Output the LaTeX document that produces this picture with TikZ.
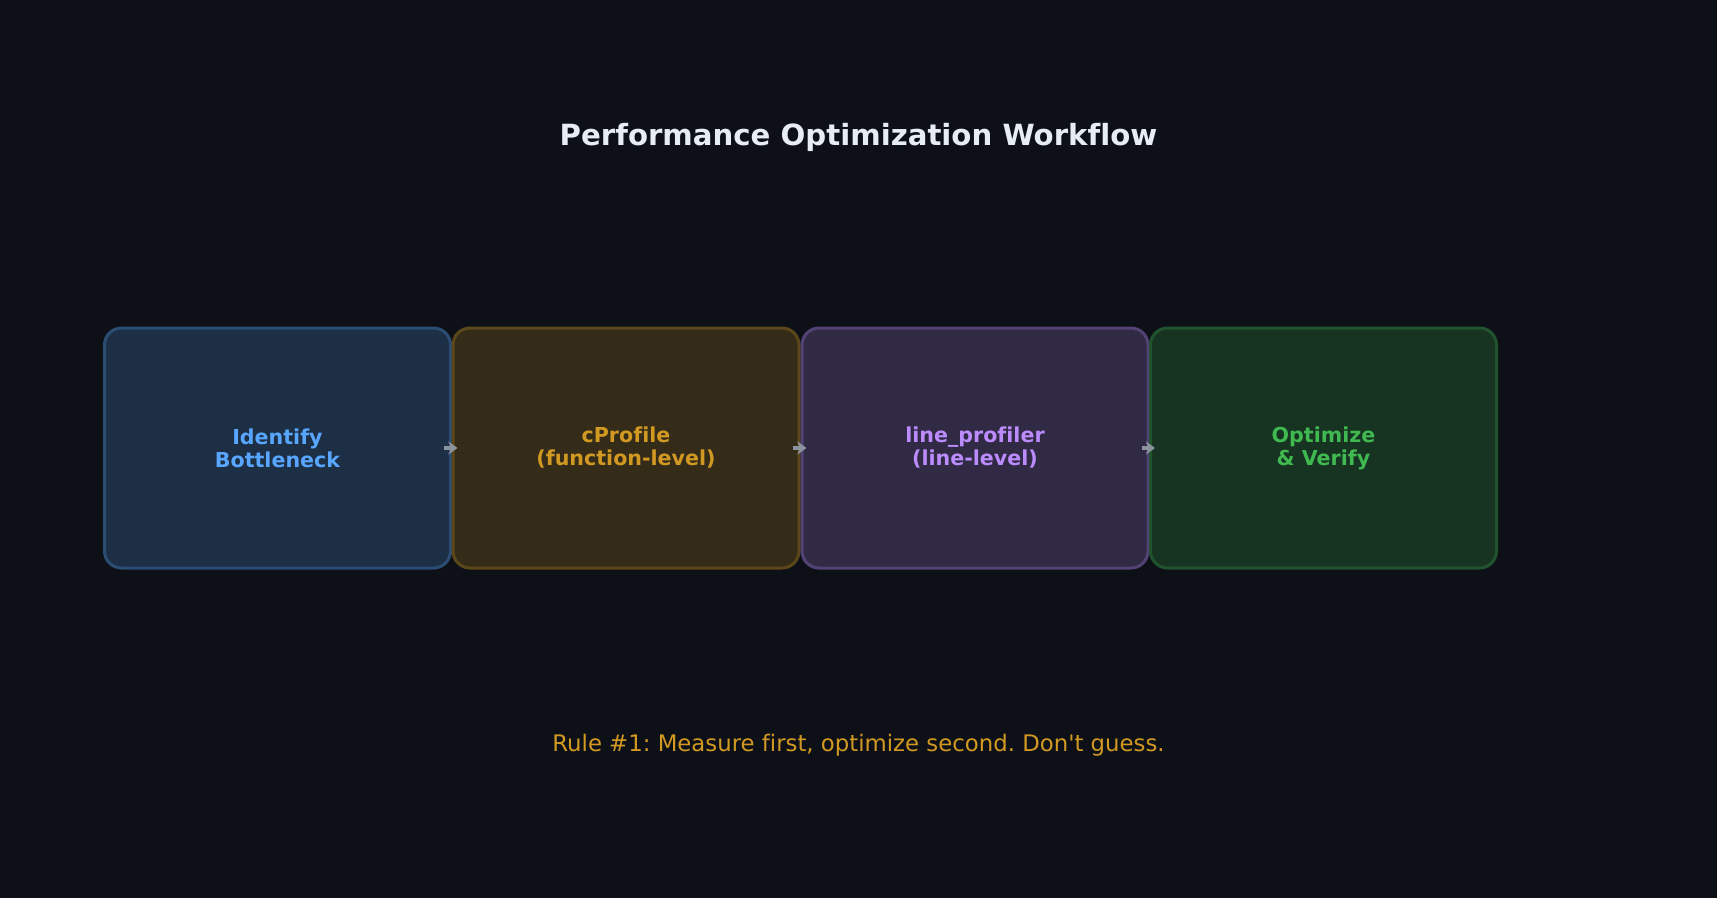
\documentclass[tikz,border=0pt]{standalone}
\usepackage{fontspec}
\setmainfont[Ligatures={NoCommon}]{DejaVu Sans}
\usetikzlibrary{arrows.meta}
\definecolor{bg}{HTML}{0D1117}
\definecolor{cblue}{HTML}{58A6FF}
\definecolor{corange}{HTML}{D29922}
\definecolor{cpurple}{HTML}{BC8CFF}
\definecolor{cgreen}{HTML}{3FB950}
\definecolor{ctitle}{HTML}{E6EDF3}
\definecolor{carrow}{HTML}{8B949E}
\tikzset{
  stepbox/.style={draw=#1!40!bg, fill=#1!20!bg, text=#1, line width=3pt,
    rounded corners=17pt, minimum width=346pt, minimum height=240pt,
    align=center, inner sep=0pt,
    font=\fontsize{20.6}{23}\selectfont\bfseries},
  flowarrow/.style={draw=carrow, line width=3.5pt,
    -{Stealth[length=9pt,width=13pt,inset=2.5pt]}},
  titletext/.style={text=ctitle, font=\fontsize{29.2}{34}\selectfont\bfseries},
  foottext/.style={text=corange, font=\fontsize{22.8}{27}\selectfont}
}
\frenchspacing
\begin{document}
\begin{tikzpicture}[x=1pt,y=-1pt]
\useasboundingbox[fill=bg] (0,0) rectangle (1717,898);
\node[titletext] (title) at (858.5,137) {Performance Optimization Workflow};
\node[stepbox=cblue] (b1) at (277.5,448) {Identify\\Bottleneck};
\node[stepbox=corange] (b2) at (626,448) {cProfile\\(function-level)};
\node[stepbox=cpurple] (b3) at (975,448) {line\_profiler\\(line-level)};
\node[stepbox=cgreen] (b4) at (1323.5,448) {Optimize\\\& Verify};
\draw[flowarrow] ([xshift=-8pt]b1.east) -- ([xshift=6pt]b2.west);
\draw[flowarrow] ([xshift=-8pt]b2.east) -- ([xshift=6pt]b3.west);
\draw[flowarrow] ([xshift=-8pt]b3.east) -- ([xshift=6pt]b4.west);
\node[foottext] (foot) at (858.5,745) {\frenchspacing Rule \#1: Measure first, optimize second. Don\textquotesingle t guess.};
\end{tikzpicture}
\end{document}
